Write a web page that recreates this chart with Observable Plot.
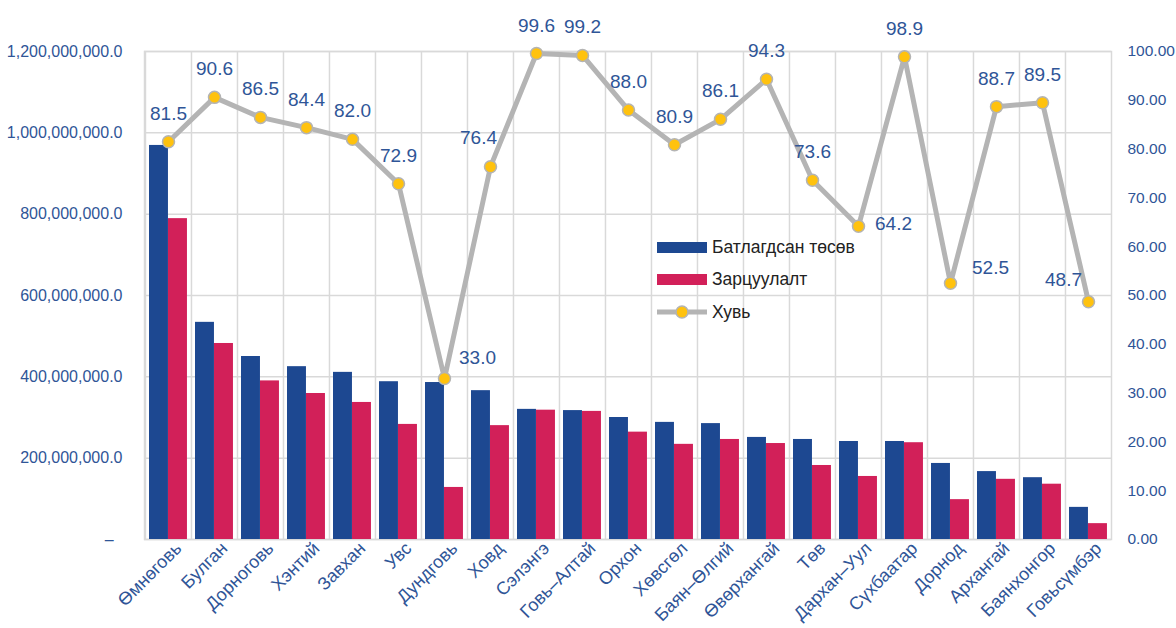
<!DOCTYPE html>
<html><head><meta charset="utf-8">
<script src="https://cdn.jsdelivr.net/npm/d3@7"></script>
<script src="https://cdn.jsdelivr.net/npm/@observablehq/plot@0.6"></script>
<style>
body{margin:0;background:#fff;}
#wrap{position:relative;width:1176px;height:628px;font-family:"Liberation Sans",Arial,sans-serif;}
#legend{position:absolute;left:657px;top:231px;font-size:17.5px;color:#222;}
#legend .row{display:flex;align-items:center;height:32.5px;}
#legend .sw{width:50px;height:11px;margin-right:5px;}
#legend svg{margin-right:5px;}
</style></head><body><div id="wrap"></div>
<script>
const regions = ["Өмнөговь","Булган","Дорноговь","Хэнтий","Завхан","Увс","Дундговь","Ховд","Сэлэнгэ","Говь–Алтай","Орхон","Хөвсгөл","Баян–Өлгий","Өвөрхангай","Төв","Дархан–Уул","Сүхбаатар","Дорнод","Архангай","Баянхонгор","Говьсүмбэр"];
const budget = [969e6,534e6,450e6,425e6,411e6,388e6,386e6,366e6,320e6,317e6,300e6,288e6,285e6,251e6,246e6,241e6,241e6,187e6,167e6,152e6,79e6];
const spending = [789e6,482e6,390e6,359e6,337e6,283e6,128e6,280e6,318e6,315e6,264e6,234e6,246e6,236e6,182e6,155e6,238e6,98e6,148e6,136e6,39e6];
const percent = [81.5,90.6,86.5,84.4,82.0,72.9,33.0,76.4,99.6,99.2,88.0,80.9,86.1,94.3,73.6,64.2,98.9,52.5,88.7,89.5,48.7];
const leftTicks = [0,2e8,4e8,6e8,8e8,10e8,12e8];
const rightTicks = [0,10,20,30,40,50,60,70,80,90,100];
const seriesNames = ["Батлагдсан төсөв","Зарцуулалт","Хувь"];

const W = 1176, H = 628, ML = 144, MR = 65, MT = 51, MB = 89;
const yMax = 1.2e9;
const bw = (W - ML - MR) / regions.length;
const BLUE = "#1D4891", RED = "#D22059", GREY = "#B4B4B4", GOLD = "#FFC20E", TXT = "#2F5597", GRID = "#D9D9D9";
const FONT = '"Liberation Sans",Arial,sans-serif';
const rows = regions.map((r, i) => ({region: r, budget: budget[i], spending: spending[i], pct: percent[i]}));
const pctY = d => d.pct / 100 * yMax;
const labelOffsets = {"Дундговь":[33,-21],"Ховд":[-12,-29],"Дархан–Уул":[35,-2],"Дорнод":[40,-15],"Говьсүмбэр":[-25,-22]};

const labelMarks = rows.map(d => {
  const [dx, dy] = labelOffsets[d.region] || [0, -28];
  return Plot.text([d], {x: "region", y: pctY, text: d => d.pct.toFixed(1), dx, dy, fill: TXT, fontSize: 19});
});

const chart = Plot.plot({
  width: W, height: H,
  marginLeft: ML, marginRight: MR, marginTop: MT, marginBottom: MB,
  style: {fontFamily: FONT, background: "#fff"},
  x: {domain: regions, padding: 0, label: null},
  y: {domain: [0, yMax], label: null},
  marks: [
    Plot.gridY(leftTicks, {stroke: GRID, strokeOpacity: 1, strokeWidth: 1.5}),
    Plot.ruleX(regions, {x: d => d, dx: -bw / 2, stroke: GRID, strokeWidth: 1.5}),
    Plot.frame({stroke: GRID, strokeWidth: 1.5}),
    Plot.barY(rows, {x: "region", y: "budget", fill: BLUE, insetLeft: 4, insetRight: bw - 23}),
    Plot.barY(rows, {x: "region", y: "spending", fill: RED, insetLeft: 23, insetRight: bw - 42}),
    Plot.line(rows, {x: "region", y: pctY, stroke: GREY, strokeWidth: 5}),
    Plot.dot(rows, {x: "region", y: pctY, r: 6, fill: GOLD, stroke: GREY, strokeWidth: 1.5}),
    ...labelMarks,
    Plot.axisY(leftTicks, {anchor: "left", tickSize: 0, tickPadding: 22, fill: TXT, fontSize: 16, label: null,
      tickFormat: d => d === 0 ? "–\u00a0\u00a0" : d3.format(",.1f")(d)}),
    Plot.axisY(rightTicks.map(p => p / 100 * yMax), {anchor: "right", tickSize: 0, tickPadding: 16, fill: TXT, fontSize: 15.5, label: null,
      tickFormat: d => (d / yMax * 100).toFixed(2)}),
    Plot.axisX({tickRotate: -45, tickSize: 0, tickPadding: 6, fill: TXT, fontSize: 18, dx: 10, label: null})
  ]
});
document.getElementById("wrap").appendChild(chart);

const legend = document.createElement("div");
legend.id = "legend";
legend.innerHTML =
  `<div class="row"><div class="sw" style="background:${BLUE}"></div>${seriesNames[0]}</div>` +
  `<div class="row"><div class="sw" style="background:${RED}"></div>${seriesNames[1]}</div>` +
  `<div class="row"><svg width="50" height="14"><line x1="0" x2="50" y1="7" y2="7" stroke="${GREY}" stroke-width="5"/><circle cx="25" cy="7" r="6" fill="${GOLD}" stroke="${GREY}" stroke-width="1.5"/></svg>${seriesNames[2]}</div>`;
document.getElementById("wrap").appendChild(legend);
</script></body></html>
